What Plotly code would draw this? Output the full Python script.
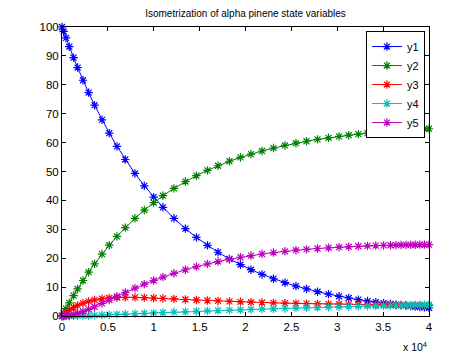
import plotly.graph_objects as go

t = [0, 175, 435, 795, 1260, 1700, 2290, 2900, 3550, 4360, 5150, 5990, 6900, 7950, 8970,
     9990, 11000, 12200, 13450, 14650, 15850, 17000, 18250, 19450, 20600, 21800, 23050,
     24300, 25500, 26650, 27850, 29050, 30200, 31250, 32300, 33300, 34200, 35050, 35800,
     36400, 36950, 37500, 38000, 38500, 39000, 39500, 40000]

y1 = [100, 98.46, 96.21, 93.18, 89.40, 85.97, 81.58, 77.28, 72.94, 67.87, 63.27, 58.71,
      54.15, 49.32, 45.05, 41.14, 37.61, 33.80, 30.25, 27.19, 24.44, 22.06, 19.74, 17.75,
      16.02, 14.40, 12.89, 11.53, 10.36, 9.36, 8.41, 7.56, 6.82, 6.22, 5.66, 5.18, 4.78,
      4.43, 4.15, 3.93, 3.75, 3.57, 3.41, 3.26, 3.12, 2.99, 2.86]

y2 = [0, 1.03, 2.53, 4.55, 7.07, 9.36, 12.29, 15.16, 18.05, 21.43, 24.50, 27.54, 30.58,
      33.80, 36.66, 39.26, 41.62, 44.16, 46.53, 48.57, 50.40, 51.99, 53.54, 54.87, 56.02,
      57.10, 58.11, 59.01, 59.79, 60.46, 61.10, 61.66, 62.15, 62.56, 62.93, 63.25, 63.51,
      63.75, 63.94, 64.08, 64.21, 64.33, 64.43, 64.53, 64.62, 64.71, 64.80]

y3 = [0, 0.50, 1.19, 2.02, 2.94, 3.67, 4.45, 5.07, 5.56, 5.99, 6.24, 6.40, 6.46, 6.44,
      6.35, 6.23, 6.09, 5.91, 5.71, 5.53, 5.36, 5.20, 5.05, 4.91, 4.78, 4.67, 4.55, 4.45,
      4.36, 4.28, 4.21, 4.14, 4.08, 4.03, 3.98, 3.94, 3.90, 3.87, 3.85, 3.83, 3.81, 3.79,
      3.78, 3.76, 3.75, 3.73, 3.72]

y4 = [0, 0.00, 0.00, 0.02, 0.04, 0.07, 0.12, 0.18, 0.25, 0.35, 0.45, 0.56, 0.68, 0.82,
      0.95, 1.08, 1.21, 1.36, 1.50, 1.64, 1.78, 1.90, 2.03, 2.16, 2.27, 2.39, 2.50, 2.62,
      2.73, 2.83, 2.93, 3.04, 3.13, 3.22, 3.31, 3.39, 3.46, 3.53, 3.59, 3.63, 3.68, 3.72,
      3.76, 3.80, 3.84, 3.87, 3.91]

y5 = [0, 0.01, 0.07, 0.23, 0.54, 0.93, 1.56, 2.32, 3.20, 4.37, 5.54, 6.79, 8.13, 9.62,
      11.00, 12.29, 13.48, 14.78, 16.01, 17.07, 18.02, 18.84, 19.64, 20.33, 20.91, 21.45,
      21.95, 22.39, 22.76, 23.07, 23.36, 23.61, 23.81, 23.98, 24.13, 24.25, 24.34, 24.42,
      24.48, 24.53, 24.57, 24.60, 24.63, 24.65, 24.68, 24.70, 24.71]

names = ["y1", "y2", "y3", "y4", "y5"]
colors = ["rgb(0,0,255)", "rgb(0,128,0)", "rgb(255,0,0)", "rgb(0,191,191)", "rgb(191,0,191)"]

x_tickvals = [0, 5000, 10000, 15000, 20000, 25000, 30000, 35000, 40000]
x_ticktext = ["0", "0.5", "1", "1.5", "2", "2.5", "3", "3.5", "4"]
y_tickvals = [0, 10, 20, 30, 40, 50, 60, 70, 80, 90, 100]

fig = go.Figure()
for name, ys, c in zip(names, [y1, y2, y3, y4, y5], colors):
    fig.add_trace(go.Scatter(
        x=t, y=ys, name=name, mode="lines+markers",
        line=dict(color=c, width=1),
        marker=dict(symbol="asterisk-open", size=7, color=c, line=dict(color=c, width=1.2)),
        cliponaxis=False,
    ))

font_family = "Liberation Sans, Arial, sans-serif"
# the page body adds an 8px offset, so the figure is 8px smaller than the window
W, H = 466, 347
fig.update_layout(
    width=W, height=H,
    margin=dict(l=54, r=45, t=19, b=39),
    paper_bgcolor="white", plot_bgcolor="white",
    font=dict(family=font_family, size=11, color="black"),
    title=dict(text="Isometrization of alpha pinene state variables",
               font=dict(size=10, family=font_family, color="black"),
               x=0.5, xref="paper", xanchor="center", y=1 - 5.5 / H, yanchor="middle"),
    showlegend=True,
    legend=dict(x=0.989, y=0.986, xanchor="right", yanchor="top",
                bgcolor="white", bordercolor="black", borderwidth=1,
                font=dict(size=11, family=font_family, color="black"),
                tracegroupgap=0, itemwidth=30),
    xaxis=dict(range=[0, 40000], tickvals=x_tickvals, ticktext=x_ticktext,
               ticks="inside", ticklen=4, tickcolor="black", showline=True,
               linecolor="black", linewidth=1, mirror="allticks", showgrid=False,
               zeroline=False, tickfont=dict(size=11.5)),
    yaxis=dict(range=[0, 100], tickvals=y_tickvals,
               ticks="inside", ticklen=4, tickcolor="black", showline=True,
               linecolor="black", linewidth=1, mirror="allticks", showgrid=False,
               zeroline=False, tickfont=dict(size=11.5)),
    annotations=[dict(text="x 10<sup>4</sup>", x=1.0, y=-0.075, xref="paper", yref="paper",
                      xanchor="right", yanchor="top", showarrow=False,
                      font=dict(size=10.5, family=font_family, color="black"))],
)

fig.write_html("out.html")
